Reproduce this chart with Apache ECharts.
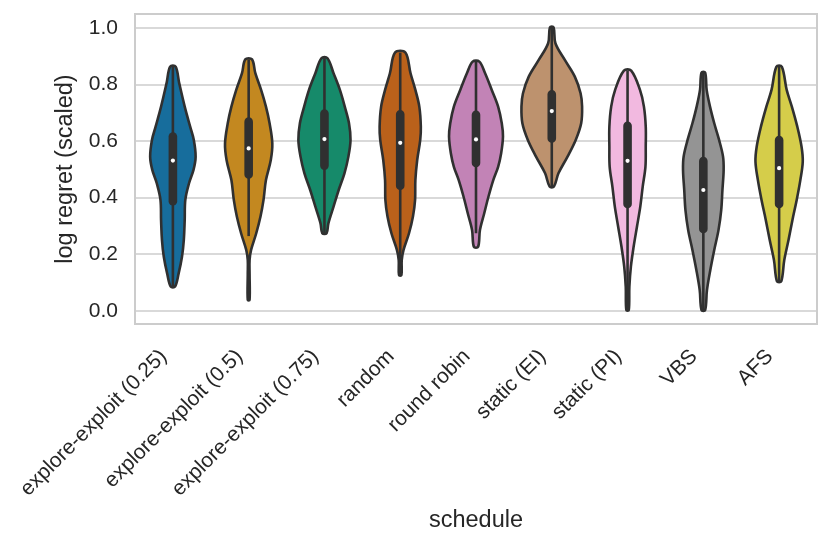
<!DOCTYPE html>
<html>
<head>
<meta charset="UTF-8">
<title>violin</title>
<script src="https://cdn.jsdelivr.net/npm/echarts@6/dist/echarts.min.js"></script>
<style>
*{margin:0;padding:0}
html,body{width:100%;height:100%;background:#fff}
#main{width:830px;height:547px}
</style>
</head>
<body>
<div id="main"></div>
<script>
var schedules = ['explore-exploit (0.25)', 'explore-exploit (0.5)', 'explore-exploit (0.75)',
    'random', 'round robin', 'static (EI)', 'static (PI)', 'VBS', 'AFS'];
// seaborn colorblind palette, desaturated
var colors = ['#176d9c', '#c38820', '#168a6a', '#ba611b', '#c283b6', '#bd926e', '#f2b9e0', '#949494', '#d5cd4a'];

// kde profiles: [log regret, relative density], top to bottom
var kdeEE025 = [[0.863,0.09],[0.804,0.21],[0.722,0.39],[0.651,0.57],[0.604,0.69],[0.545,0.75],[0.498,0.68],
    [0.450,0.53],[0.392,0.41],[0.321,0.39],[0.250,0.36],[0.191,0.30],[0.132,0.19],[0.085,0.07]];
var kdeEE05 = [[0.889,0.11],[0.840,0.22],[0.781,0.41],[0.722,0.57],[0.663,0.69],[0.592,0.78],[0.533,0.73],
    [0.462,0.57],[0.392,0.49],[0.333,0.39],[0.274,0.25],[0.215,0.08],[0.179,0.03],[0.130,0.03],[0.038,0.03]];
var kdeEE075 = [[0.893,0.10],[0.840,0.30],[0.781,0.51],[0.722,0.67],[0.663,0.81],[0.604,0.86],[0.545,0.79],
    [0.486,0.66],[0.427,0.47],[0.368,0.30],[0.309,0.13],[0.274,0.07]];
var kdeRandom = [[0.913,0.17],[0.840,0.34],[0.781,0.50],[0.722,0.63],[0.651,0.68],[0.604,0.66],[0.533,0.56],
    [0.462,0.50],[0.392,0.49],[0.333,0.42],[0.274,0.29],[0.215,0.11],[0.179,0.05],[0.126,0.04]];
var kdeRoundRobin = [[0.881,0.11],[0.840,0.30],[0.781,0.52],[0.722,0.73],[0.663,0.85],[0.616,0.89],[0.557,0.83],
    [0.509,0.73],[0.462,0.57],[0.403,0.41],[0.344,0.27],[0.285,0.13],[0.226,0.07]];
var kdeStaticEI = [[1.002,0.06],[0.946,0.12],[0.887,0.43],[0.828,0.76],[0.769,0.95],[0.722,1.00],[0.663,0.97],
    [0.604,0.79],[0.545,0.52],[0.486,0.22],[0.439,0.07]];
var kdeStaticPI = [[0.849,0.12],[0.781,0.41],[0.722,0.54],[0.651,0.60],[0.580,0.60],[0.509,0.59],[0.439,0.50],
    [0.368,0.42],[0.297,0.31],[0.226,0.20],[0.156,0.11],[0.085,0.06],[0.002,0.04]];
var kdeVBS = [[0.842,0.06],[0.781,0.11],[0.722,0.22],[0.663,0.36],[0.604,0.52],[0.545,0.65],[0.498,0.67],
    [0.427,0.63],[0.356,0.59],[0.285,0.50],[0.215,0.36],[0.144,0.23],[0.073,0.12],[0.002,0.06]];
var kdeAFS = [[0.863,0.09],[0.781,0.25],[0.722,0.42],[0.651,0.60],[0.580,0.74],[0.527,0.78],[0.462,0.70],
    [0.392,0.58],[0.321,0.44],[0.250,0.31],[0.179,0.17],[0.104,0.07]];
var profiles = [kdeEE025, kdeEE05, kdeEE075, kdeRandom, kdeRoundRobin, kdeStaticEI, kdeStaticPI, kdeVBS, kdeAFS];

// inner box
var q1 = [0.372, 0.467, 0.498, 0.427, 0.507, 0.594, 0.362, 0.274, 0.362];
var medians = [0.531, 0.574, 0.607, 0.594, 0.606, 0.706, 0.530, 0.427, 0.504];
var q3 = [0.631, 0.684, 0.713, 0.710, 0.708, 0.781, 0.669, 0.545, 0.619];
var whiskerLow = [0.085, 0.264, 0.274, 0.126, 0.274, 0.439, 0.002, 0.002, 0.104];
var whiskerHigh = [0.863, 0.889, 0.893, 0.913, 0.881, 1.002, 0.849, 0.842, 0.863];

var yTicks = [0, 0.2, 0.4, 0.6, 0.8, 1.0];

var lineColor = '#303030';
var font = 'Liberation Sans, Arial, sans-serif';

var myChart = echarts.init(document.getElementById('main'));

function renderViolin(params, api) {
    var i = api.value(0);
    var prof = profiles[i];
    var band = api.size([1, 0])[0];
    var halfMax = band * 0.4;
    var cx = api.coord([i, 0])[0];
    var right = [], left = [];
    for (var k = 0; k < prof.length; k++) {
        var y = api.coord([i, prof[k][0]])[1];
        var w = prof[k][1] * halfMax;
        right.push([cx + w, y]);
        left.unshift([cx - w, y]);
    }
    var pts = right.concat(left);
    var yLo = api.coord([i, whiskerLow[i]])[1];
    var yHi = api.coord([i, whiskerHigh[i]])[1];
    var yQ1 = api.coord([i, q1[i]])[1];
    var yQ3 = api.coord([i, q3[i]])[1];
    var yMed = api.coord([i, medians[i]])[1];
    var bw = 8.6;
    return {
        type: 'group',
        children: [
            {
                type: 'polygon',
                shape: { points: pts, smooth: 0.35 },
                style: { fill: colors[i], stroke: lineColor, lineWidth: 2.6, lineJoin: 'round' }
            },
            {
                type: 'line',
                shape: { x1: cx, y1: yHi, x2: cx, y2: yLo },
                style: { stroke: lineColor, lineWidth: 2.6 }
            },
            {
                type: 'rect',
                shape: { x: cx - bw / 2, y: yQ3, width: bw, height: yQ1 - yQ3, r: bw / 2 },
                style: { fill: lineColor }
            },
            {
                type: 'circle',
                shape: { cx: cx, cy: yMed, r: 2.1 },
                style: { fill: '#ffffff' }
            }
        ]
    };
}

var option = {
    backgroundColor: '#ffffff',
    animation: false,
    grid: {
        left: 135, right: 13, top: 14, bottom: 223,
        show: true, borderColor: '#cccccc', borderWidth: 2, backgroundColor: 'transparent'
    },
    xAxis: {
        type: 'category',
        data: schedules,
        name: 'schedule',
        nameLocation: 'middle',
        nameGap: 185,
        nameTextStyle: { fontFamily: font, fontSize: 23.5, color: '#262626', verticalAlign: 'top' },
        axisLine: { show: false },
        axisTick: { show: false },
        axisLabel: {
            rotate: 45, interval: 0, margin: 20,
            padding: [0, 13, 0, 0],
            fontFamily: font, fontSize: 21, color: '#262626'
        },
        splitLine: { show: false }
    },
    yAxis: {
        type: 'value',
        min: -0.047,
        max: 1.0495,
        name: 'log regret (scaled)',
        nameLocation: 'middle',
        nameGap: 56,
        nameTextStyle: { fontFamily: font, fontSize: 23.5, color: '#262626' },
        axisLine: { show: false },
        axisTick: { show: false },
        axisLabel: {
            margin: 17,
            fontFamily: font, fontSize: 21, color: '#262626',
            showMinLabel: false, showMaxLabel: false,
            formatter: function (v) {
                for (var t = 0; t < yTicks.length; t++) {
                    if (Math.abs(v - yTicks[t]) < 1e-6) return yTicks[t].toFixed(1);
                }
                return '';
            }
        },
        splitLine: { show: true, lineStyle: { color: '#cccccc', width: 1.7 } }
    },
    series: [{
        type: 'custom',
        renderItem: renderViolin,
        encode: { x: 0, y: 1 },
        data: schedules.map(function (s, i) { return [i, medians[i]]; }),
        z: 3
    }]
};
myChart.setOption(option);
</script>
</body>
</html>
